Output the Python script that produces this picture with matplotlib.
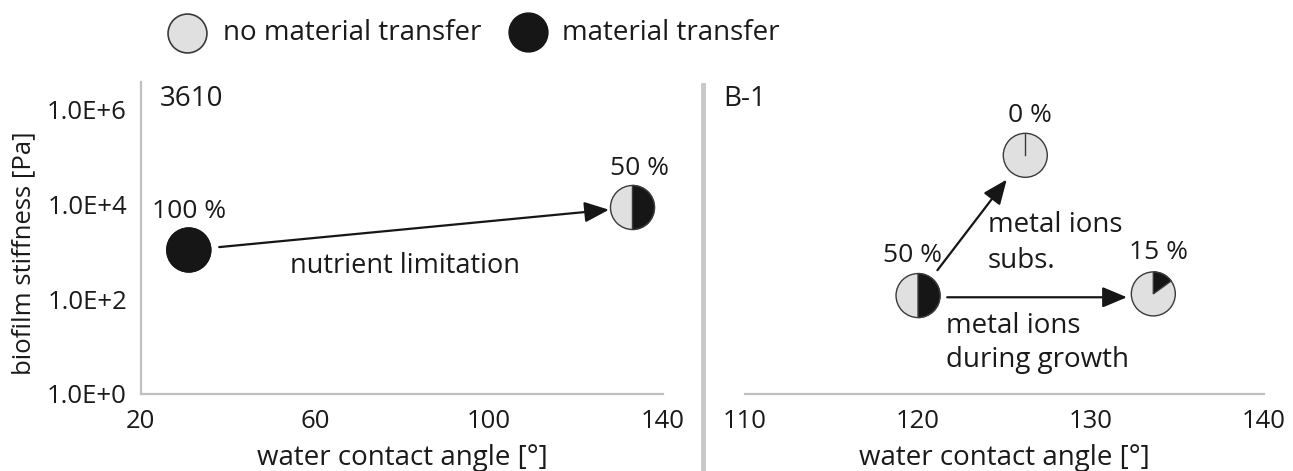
import matplotlib
matplotlib.use("Agg")
import matplotlib.pyplot as plt
import matplotlib.transforms as mtransforms
from matplotlib.patches import Circle, Wedge
from matplotlib.lines import Line2D

plt.rcParams['font.family'] = ['Open Sans', 'DejaVu Sans']

# strain 3610 (left panel)
left_angle = [31, 133]
left_stiffness = [1.1e3, 8.7e3]
left_transfer = [100, 50]

# strain B-1 (right panel)
right_angle = [120, 126.2, 133.6]
right_stiffness = [120, 1.1e5, 130]
right_transfer = [50, 0, 15]

left_xticks = [20, 60, 100, 140]
right_xticks = [110, 120, 130, 140]
yticks = [1e0, 1e2, 1e4, 1e6]
ytick_labels = ["1.0E+0", "1.0E+2", "1.0E+4", "1.0E+6"]

LIGHT = "#e0e0e0"
DARK = "#161616"
EDGE = "#3a3a3a"
AXIS = "#c0c0c0"
TXT = "#1a1a1a"
FS = 20      # running text
FS_TICK = 18.5
FS_PCT = 19

fig = plt.figure(figsize=(12.93, 4.71), dpi=100)
ax1 = fig.add_axes([0.1090, 0.1635, 0.4037, 0.6624])
ax2 = fig.add_axes([0.5762, 0.1635, 0.4014, 0.6624])

R = 0.22  # pie radius in inches


def draw_pie(ax, x, y, pct):
    trans = fig.dpi_scale_trans + mtransforms.ScaledTranslation(x, y, ax.transData)
    ax.add_patch(Circle((0, 0), R, facecolor=LIGHT, edgecolor=EDGE, lw=1.0,
                        transform=trans, clip_on=False, zorder=5))
    if pct >= 100:
        ax.add_patch(Circle((0, 0), R, facecolor=DARK, edgecolor=DARK, lw=1.0,
                            transform=trans, clip_on=False, zorder=6))
    elif pct > 0:
        ax.add_patch(Wedge((0, 0), R, 90 - 3.6 * pct, 90, facecolor=DARK,
                           edgecolor=EDGE, lw=1.0, transform=trans,
                           clip_on=False, zorder=6))
    else:
        ax.add_line(Line2D([0, 0], [0, R * 0.95], color=EDGE, lw=1.0,
                           transform=trans, clip_on=False, zorder=6))


def label_pie(ax, x, y, pct, dx=0, dy=28):
    ax.annotate(f"{pct} %", (x, y), xytext=(dx, dy), textcoords="offset points",
                ha="center", va="center", fontsize=FS_PCT, color=TXT)


def arrow(ax, src, dst, sa, sb):
    ax.annotate("", xy=dst, xytext=src,
                arrowprops=dict(arrowstyle="-|>,head_length=1.0,head_width=0.42",
                                mutation_scale=15, lw=1.6, color=DARK,
                                shrinkA=sa, shrinkB=sb), zorder=4)


for ax, xlim, xt in [(ax1, (20, 140), left_xticks), (ax2, (110, 140), right_xticks)]:
    ax.set_yscale("log")
    ax.set_xlim(*xlim)
    ax.set_ylim(1, 10 ** 6.59)
    ax.set_xticks(xt)
    ax.set_xticklabels([str(v) for v in xt])
    ax.tick_params(axis="x", length=0, pad=11, labelsize=FS_TICK, colors=TXT)
    for s in ["top", "right"]:
        ax.spines[s].set_visible(False)
    ax.spines["bottom"].set_color(AXIS)
    ax.spines["bottom"].set_linewidth(1.6)
    ax.set_xlabel("water contact angle [°]", fontsize=FS, color=TXT)
    ax.xaxis.set_label_coords(0.5, -0.16)
    ax.set_facecolor("none")

ax1.spines["left"].set_color(AXIS)
ax1.spines["left"].set_linewidth(1.6)
ax1.set_yticks(yticks)
ax1.set_yticklabels(ytick_labels)
ax1.yaxis.set_minor_locator(matplotlib.ticker.NullLocator())
ax1.tick_params(axis="y", length=0, pad=10, labelsize=FS_TICK, colors=TXT)
ax1.set_ylabel("biofilm stiffness [Pa]", fontsize=18.5, color=TXT)
ax1.yaxis.set_label_coords(-0.2, 0.45)

ax2.spines["left"].set_visible(False)
ax2.set_yticks([])
ax2.yaxis.set_minor_locator(matplotlib.ticker.NullLocator())

# left panel
for x, y, p in zip(left_angle, left_stiffness, left_transfer):
    draw_pie(ax1, x, y, p)
label_pie(ax1, left_angle[0], left_stiffness[0], left_transfer[0], 0, 28)
label_pie(ax1, left_angle[1], left_stiffness[1], left_transfer[1], 5, 28)
arrow(ax1, (left_angle[0], left_stiffness[0]), (left_angle[1], left_stiffness[1]), 22, 17)
ax1.text(0.505, 0.41, "nutrient limitation", transform=ax1.transAxes, ha="center",
         va="center", fontsize=19.5, color=TXT)
ax1.text(0.036, 0.946, "3610", transform=ax1.transAxes, ha="left", va="center",
         fontsize=FS, color=TXT)

# right panel
for x, y, p in zip(right_angle, right_stiffness, right_transfer):
    draw_pie(ax2, x, y, p)
label_pie(ax2, right_angle[0], right_stiffness[0], right_transfer[0], -4, 29)
label_pie(ax2, right_angle[1], right_stiffness[1], right_transfer[1], 3, 29)
label_pie(ax2, right_angle[2], right_stiffness[2], right_transfer[2], 4, 30)
arrow(ax2, (right_angle[0], right_stiffness[0]), (right_angle[1], right_stiffness[1]), 23, 22)
arrow(ax2, (right_angle[0], right_stiffness[0] * 0.92), (right_angle[2], right_stiffness[0] * 0.92), 21, 19)
ax2.text(0.468, 0.484, "metal ions\nsubs.", transform=ax2.transAxes, ha="left",
         va="center", fontsize=FS, color=TXT, linespacing=1.4)
ax2.text(0.387, 0.163, "metal ions\nduring growth", transform=ax2.transAxes, ha="left",
         va="center", fontsize=FS, color=TXT, linespacing=1.3)
ax2.text(-0.042, 0.946, "B-1", transform=ax2.transAxes, ha="left", va="center",
         fontsize=FS, color=TXT)

# divider between panels
fig.add_artist(Line2D([0.5437, 0.5437], [0.0, 0.8195], color="#c8c8c8", lw=3.5,
                      transform=fig.transFigure))

# legend
fig.add_artist(Line2D([0.1446], [0.930], marker="o", ms=28, mfc=LIGHT, mec=EDGE,
                      mew=1.2, ls="", transform=fig.transFigure))
fig.text(0.1725, 0.930, "no material transfer", ha="left", va="center",
         fontsize=FS, color=TXT)
fig.add_artist(Line2D([0.4084], [0.932], marker="o", ms=28, mfc=DARK, mec=DARK,
                      ls="", transform=fig.transFigure))
fig.text(0.4346, 0.930, "material transfer", ha="left", va="center",
         fontsize=FS, color=TXT)

fig.savefig("out.png", dpi=100)
